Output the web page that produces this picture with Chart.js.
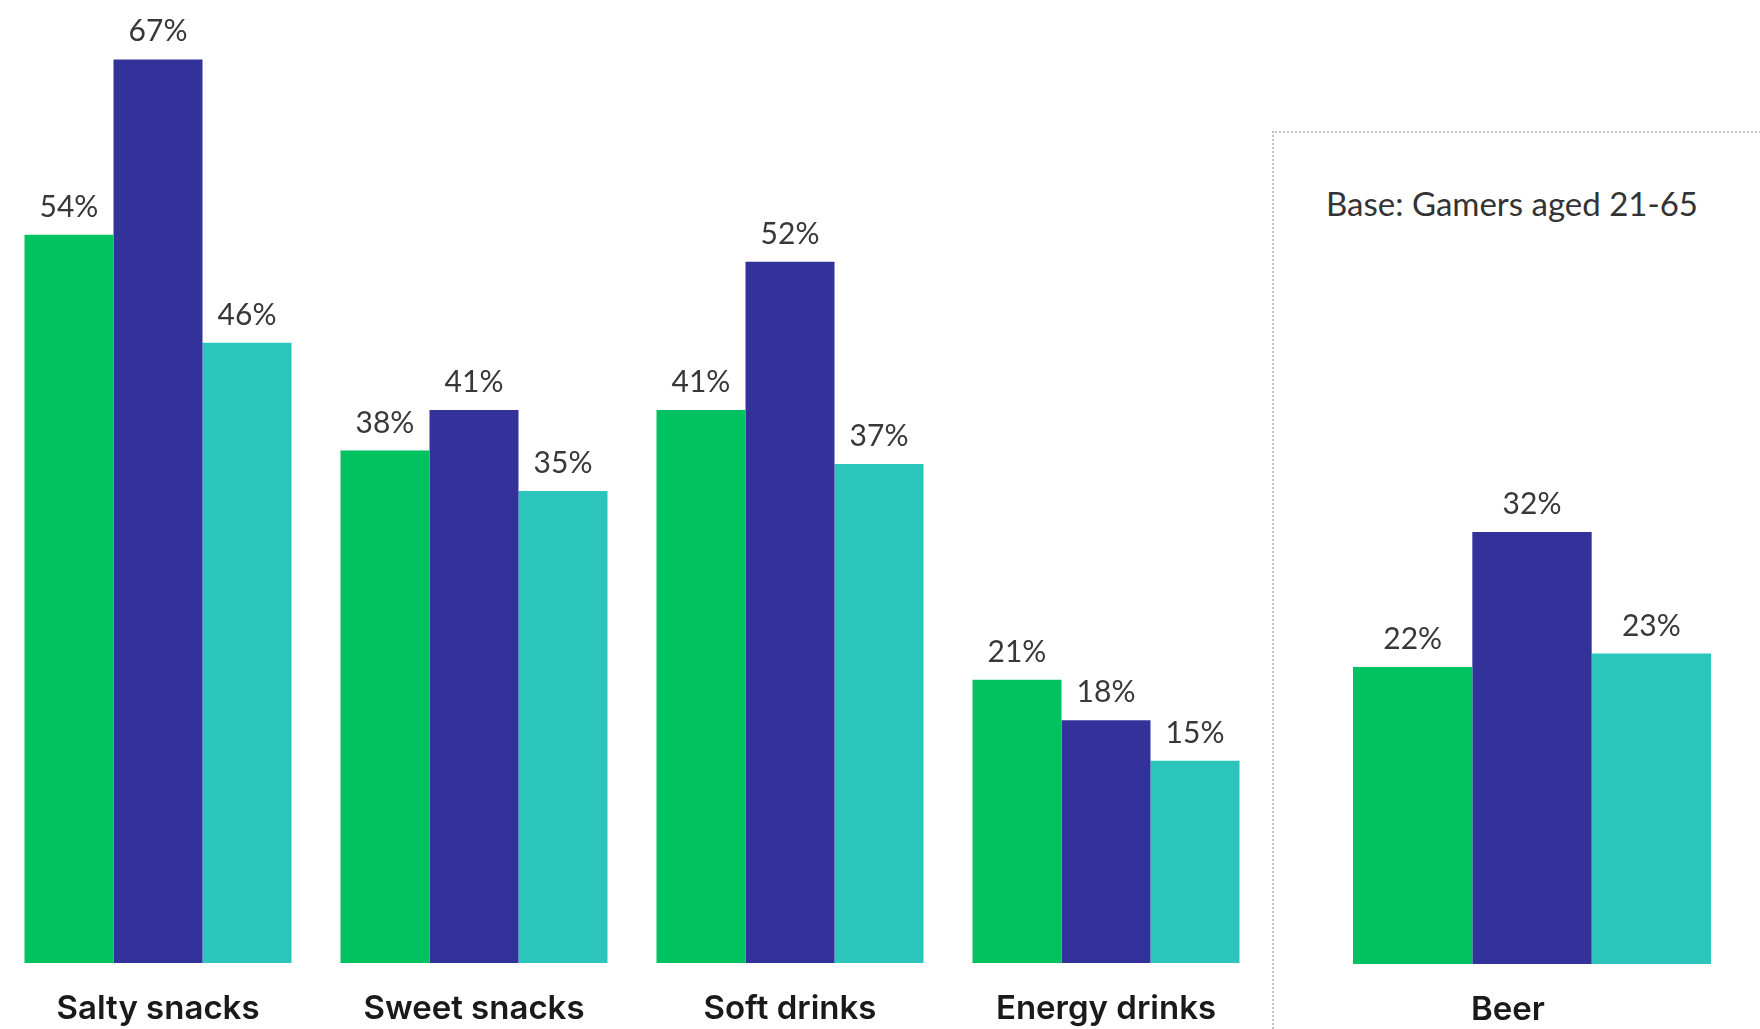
<!DOCTYPE html>
<html>
<head>
<meta charset="utf-8">
<script src="https://cdn.jsdelivr.net/npm/chart.js@4.4.0/dist/chart.umd.min.js"></script>
<style>
    html, body { margin: 0; padding: 0; background: #fff; }
    body { width: 1760px; height: 1029px; position: relative; overflow: hidden; font-family: Lato, sans-serif; }
    #cajaIzq { position: absolute; left: 0; top: 0; width: 1264px; height: 1029px; }
    #cajaDer { position: absolute; left: 1307px; top: 0; width: 450px; height: 1029px; }
    #marco { position: absolute; left: 1272px; top: 131px; right: -4px; bottom: -4px;
             border-top: 2px dotted #c4c4c4; border-left: 2px dotted #c4c4c4; }
    #base { position: absolute; left: 1326px; top: 183px; font-size: 33px; color: #333; white-space: nowrap; }
</style>
</head>
<body>
<div id="marco"></div>
<div id="base">Base: Gamers aged 21-65</div>
<div id="cajaIzq"><canvas id="graficaIzq"></canvas></div>
<div id="cajaDer"><canvas id="graficaDer"></canvas></div>

<script>
    // datos
    let categorias = ["Salty snacks", "Sweet snacks", "Soft drinks", "Energy drinks"];
    let serie1 = [54, 38, 41, 21];
    let serie2 = [67, 41, 52, 18];
    let serie3 = [46, 35, 37, 15];

    let categoriasBeer = ["Beer"];
    let beer1 = [22];
    let beer2 = [32];
    let beer3 = [23];

    let nombresSeries = ["Group 1", "Group 2", "Group 3"];
    let colores = ["#00c261", "#32329a", "#2bc5bc"];

    // etiquetas de porcentaje encima de cada barra
    const etiquetasValor = {
        id: "etiquetasValor",
        afterDatasetsDraw(chart) {
            let ctx = chart.ctx;
            ctx.save();
            ctx.font = "30px Lato";
            ctx.fillStyle = "#383838";
            ctx.textAlign = "center";
            ctx.textBaseline = "alphabetic";
            chart.data.datasets.forEach((ds, i) => {
                chart.getDatasetMeta(i).data.forEach((barra, j) => {
                    ctx.fillText(ds.data[j] + "%", barra.x, barra.y - 18);
                });
            });
            ctx.restore();
        }
    };

    function crearGrafica(id, etiquetas, valores, porcentaje, altoEje, desplazamiento) {
        let ctx = document.getElementById(id).getContext("2d");
        return new Chart(ctx, {
            type: "bar",
            data: {
                labels: etiquetas,
                datasets: valores.map((v, i) => ({
                    label: nombresSeries[i],
                    data: v,
                    backgroundColor: colores[i],
                    borderWidth: 0,
                    barPercentage: 1,
                    categoryPercentage: porcentaje
                }))
            },
            options: {
                responsive: true,
                maintainAspectRatio: false,
                animation: false,
                layout: { padding: { top: 19, left: 0, right: 0, bottom: 0 } },
                plugins: {
                    legend: { display: false },
                    tooltip: { enabled: false }
                },
                scales: {
                    x: {
                        grid: { display: false, drawTicks: false },
                        border: { display: false },
                        ticks: {
                            color: "#1a1a1a",
                            padding: 26,
                            labelOffset: desplazamiento,
                            font: { family: "Inter", size: 33, weight: "600" }
                        },
                        afterFit: s => { s.height = altoEje; }
                    },
                    y: {
                        display: false,
                        min: 0,
                        max: 70
                    }
                }
            },
            plugins: [etiquetasValor]
        });
    }

    crearGrafica("graficaIzq", categorias, [serie1, serie2, serie3], 0.845, 66, 0);
    crearGrafica("graficaDer", categoriasBeer, [beer1, beer2, beer3], 0.7956, 65, -24);
</script>
</body>
</html>
